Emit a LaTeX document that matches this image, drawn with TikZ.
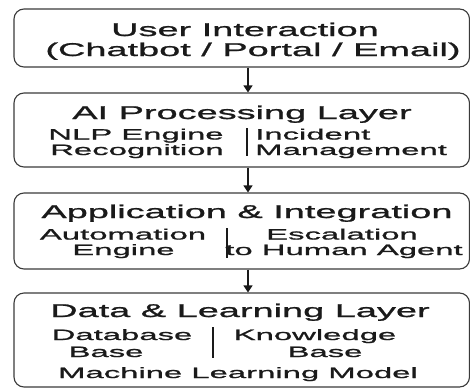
\documentclass[tikz,border=0pt]{standalone}
\usepackage{fontspec}
\setmainfont{Liberation Sans}[FakeStretch=2.05,FakeBold=1.2]
\newfontfamily\subfont{Liberation Sans}[FakeStretch=2.19,FakeBold=1.2]
\usetikzlibrary{arrows.meta}
\definecolor{boxgray}{HTML}{3A3A3A}
\definecolor{txt}{HTML}{1A1A1A}
\begin{document}
\begin{tikzpicture}[x=1pt,y=-1pt,
  box/.style={draw=boxgray, line width=1.1pt, rounded corners=10pt, rectangle, inner sep=0pt, minimum width=455.5pt},
  ttl/.style={anchor=base, inner sep=0pt, font=\fontsize{18.5}{20}\selectfont, text=txt, text height=13.5pt, text depth=3.5pt},
  sub/.style={anchor=base, inner sep=0pt, font=\subfont\fontsize{15}{17}\selectfont, text=txt, text height=11pt, text depth=2.2pt},
  subw/.style={sub, anchor=base west},
  arr/.style={-{Triangle[width=9pt,length=7pt]}, line width=1.3pt, draw=txt},
  divider/.style={draw=txt, line width=1.3pt}]
\useasboundingbox (0,0) rectangle (470,388);
% boxes
\node[box, minimum height=58pt] (b1) at (241.75,38) {};
\node[box, minimum height=74pt] (b2) at (241.75,130) {};
\node[box, minimum height=76pt] (b3) at (241.75,231) {};
\node[box, minimum height=94pt] (b4) at (241.75,340) {};
% arrows
\coordinate (ax) at (248,0);
\draw[arr] (b1.south -| ax) -- (b2.north -| ax);
\draw[arr] (b2.south -| ax) -- (b3.north -| ax);
\draw[arr] (b3.south -| ax) -- (b4.north -| ax);
% box 1
\node[ttl] (t1) at (245,36) {User Interaction};
\node[ttl] (t1b) at (253,56) {(Chatbot / Portal / Email)};
% box 2
\node[ttl] (t2) at (242,119) {AI Processing Layer};
\node[sub] (nlp) at (136,139.5) {NLP Engine};
\node[sub] (rec) at (137,155) {Recognition};
\node[subw] (inc) at (255,139.5) {Incident};
\node[subw] (man) at (255,155) {Management};
\draw[divider] (247,128) -- (247,156);
% box 3
\node[ttl] (t3) at (247,218) {Application \& Integration};
\node[sub] (aut) at (123,239.5) {Automation};
\node[sub] (eng) at (123.5,255) {Engine};
\node[sub] (esc) at (342,239.5) {Escalation};
\node[sub] (hum) at (344,255) {to Human Agent};
\draw[divider] (227,228) -- (227,258);
% box 4
\node[ttl] (t4) at (240,317) {Data \& Learning Layer};
\node[sub] (db) at (122,340) {Database};
\node[sub] (dbb) at (106,357) {Base};
\node[sub] (kn) at (315,340) {Knowledge};
\node[sub] (knb) at (325,357) {Base};
\node[sub] (ml) at (238,378) {Machine Learning Model};
\draw[divider] (213,327) -- (213,358);
\end{tikzpicture}
\end{document}
